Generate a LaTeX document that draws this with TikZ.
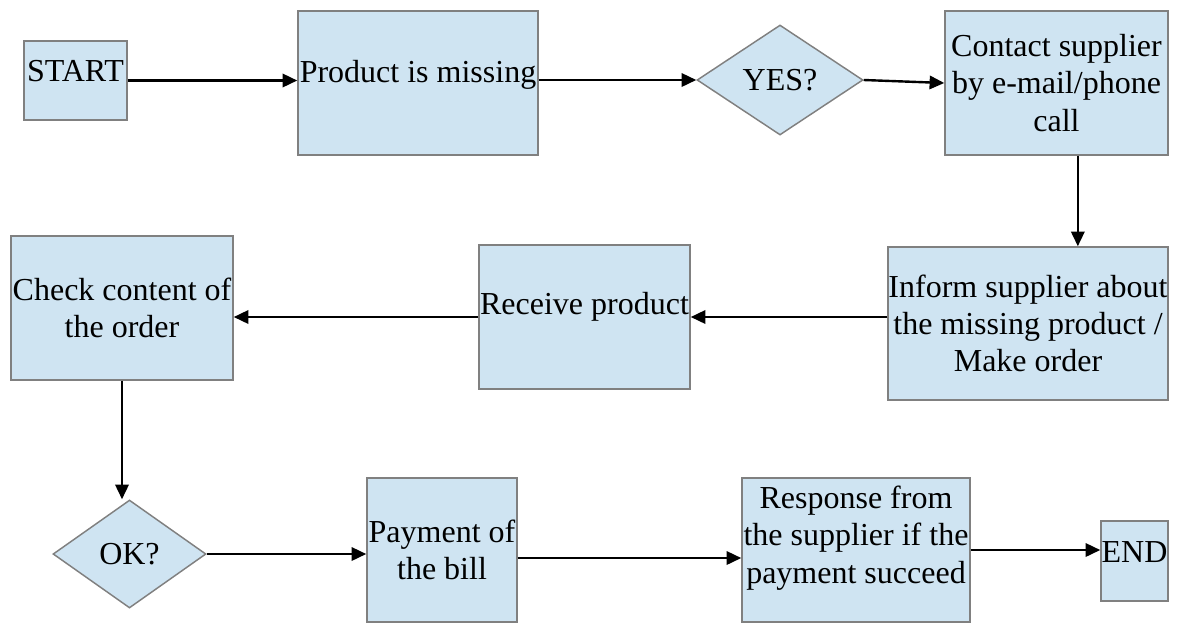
\documentclass[tikz,border=0pt]{standalone}
\usepackage{fontspec}
\setmainfont{Liberation Serif}
\newfontfamily\flowfont{Liberation Serif}
\usepackage{tikz}
\usetikzlibrary{shapes.geometric,arrows.meta}
\definecolor{flowfill}{RGB}{207,228,242}
\definecolor{flowline}{RGB}{128,128,128}

\tikzset{
  flowbox/.style={draw=flowline,fill=flowfill,line width=1.1pt,inner sep=0pt,
    align=center,font=\flowfont\fontsize{24}{28}\selectfont},
  flowdec/.style={flowbox,diamond,aspect=1.5},
  flowarrow/.style={line width=1.8pt,-{Triangle[length=11pt,width=10pt]}}
}

\begin{document}
\begin{tikzpicture}[x=0.75pt,y=-0.75pt]
\useasboundingbox (0,0) rectangle (1184,622);

% top row
\node [flowbox,minimum width=77.25pt,minimum height=59.25pt,text depth=15pt] (start) at (75.5,80.5) {START};
\node [flowbox,minimum width=180pt,minimum height=108pt,text depth=17pt] (missing) at (418,83) {Product is missing};
\node [flowdec,minimum width=124.5pt,minimum height=82.5pt] (yes) at (780,80) {YES?};
\node [flowbox,minimum width=167.25pt,minimum height=108pt] (contact) at (1056.5,83) {Contact supplier\\ by e-mail/phone\\ call};

% middle row
\node [flowbox,minimum width=210pt,minimum height=114.75pt] (inform) at (1028,323.5) {Inform supplier about\\ the missing product /\\ Make order};
\node [flowbox,minimum width=158.25pt,minimum height=108pt,text depth=20pt] (receive) at (584.5,317) {Receive product};
\node [flowbox,minimum width=166.5pt,minimum height=108pt] (check) at (122,308) {Check content of\\ the order};

% bottom row
\node [flowdec,minimum width=114.75pt,minimum height=81pt] (ok) at (129.5,554) {OK?};
\node [flowbox,minimum width=112.5pt,minimum height=108pt] (payment) at (442,550) {Payment of\\ the bill};
\node [flowbox,minimum width=171pt,minimum height=108pt,text depth=23pt] (response) at (856,550) {Response from\\ the supplier if the\\ payment succeed};
\node [flowbox,minimum width=50.25pt,minimum height=60pt,text depth=13.5pt] (end) at (1134.5,561) {END};

% connectors
\draw [flowarrow] (start.east) -- (start.east -| missing.west);
\draw [flowarrow] (missing.east |- yes.west) -- (yes.west);
\draw [flowarrow] (yes.east) -- (contact.west);
\draw [flowarrow] ([xshift=16pt]contact.south) -- ([xshift=16pt]contact.south |- inform.north);
\draw [flowarrow] (inform.west |- receive.east) -- (receive.east);
\draw [flowarrow] (receive.west) -- (receive.west -| check.east);
\draw [flowarrow] (check.south) -- (check.south |- ok.north);
\draw [flowarrow] (ok.east) -- (ok.east -| payment.west);
\draw [flowarrow] ([yshift=-6pt]payment.east) -- ([yshift=-6pt]response.west);
\draw [flowarrow] (response.east) -- (response.east -| end.west);
\end{tikzpicture}
\end{document}
